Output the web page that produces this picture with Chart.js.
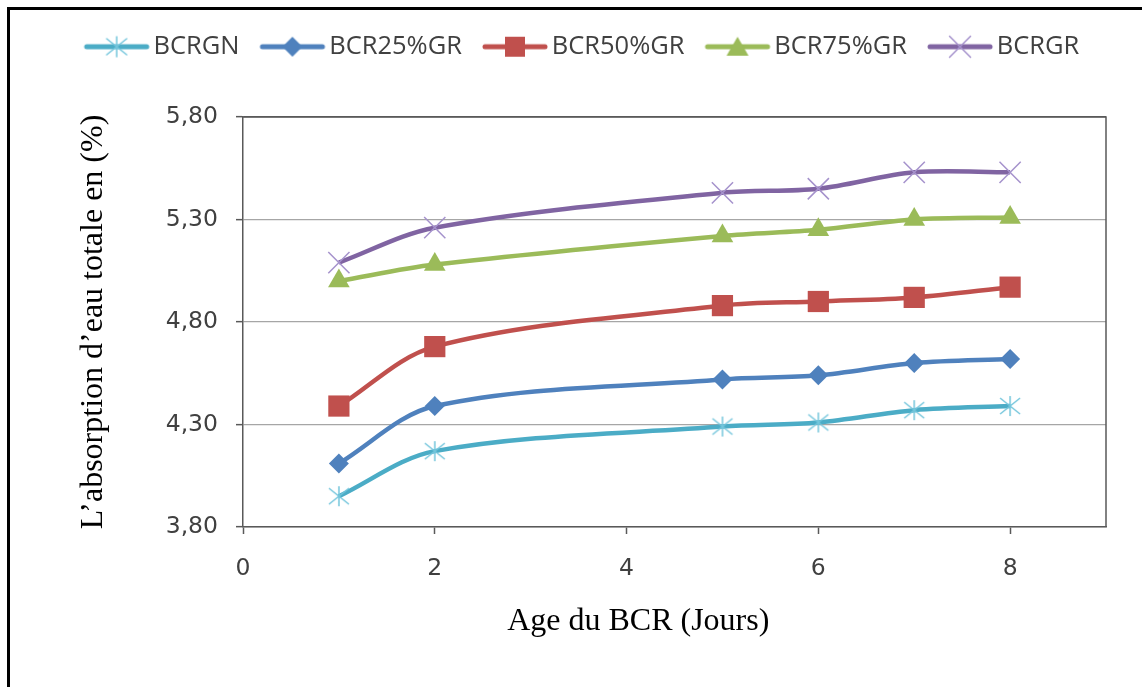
<!DOCTYPE html>
<html>
<head>
<meta charset="utf-8">
<script src="https://cdn.jsdelivr.net/npm/chart.js@4/dist/chart.umd.min.js"></script>
<style>
  html, body { margin: 0; padding: 0; background: #fff; overflow: hidden; }
  #frame { position: absolute; left: 7px; top: 7px; width: 1300px; height: 900px; border: 3px solid #000; }
  #c { position: absolute; left: 0; top: 0; }
</style>
</head>
<body>
<div id="frame"></div>
<canvas id="c" width="1142" height="687"></canvas>
<script>
// ---- data ----
const ages = [1, 2, 5, 6, 7, 8];
const seriesNames = ['BCRGN', 'BCR25%GR', 'BCR50%GR', 'BCR75%GR', 'BCRGR'];
const bcrgn   = [3.95, 4.17, 4.29, 4.31, 4.37, 4.39];
const bcr25gr = [4.11, 4.39, 4.52, 4.54, 4.60, 4.62];
const bcr50gr = [4.39, 4.68, 4.88, 4.90, 4.92, 4.97];
const bcr75gr = [5.00, 5.08, 5.22, 5.25, 5.30, 5.31];
const bcrgr   = [5.09, 5.26, 5.43, 5.45, 5.53, 5.53];
const xTickValues = [0, 2, 4, 6, 8];
const yTickValues = [3.80, 4.30, 4.80, 5.30, 5.80];
const xTitle = 'Age du BCR (Jours)';
const yTitle = 'L’absorption d’eau totale en (%)';

// ---- styles ----
const lineColors = ['#4BACC6', '#4F81BD', '#C0504D', '#9BBB59', '#8064A2'];
const markerTypes = ['star', 'diamond', 'square', 'triangle', 'x'];
const lightColors = ['#74C6DC', '#4F81BD', '#C0504D', '#9BBB59', '#A592CC'];

function drawMarker(ctx, type, cx, cy, i) {
  ctx.save();
  if (type === 'star') {
    ctx.strokeStyle = lightColors[i]; ctx.lineWidth = 1.5;
    ctx.beginPath();
    ctx.moveTo(cx, cy - 10); ctx.lineTo(cx, cy + 10);
    ctx.moveTo(cx - 10, cy - 8); ctx.lineTo(cx + 10, cy + 8);
    ctx.moveTo(cx + 10, cy - 8); ctx.lineTo(cx - 10, cy + 8);
    ctx.stroke();
  } else if (type === 'x') {
    ctx.strokeStyle = lightColors[i]; ctx.lineWidth = 1.5;
    ctx.beginPath();
    ctx.moveTo(cx - 10.5, cy - 10.5); ctx.lineTo(cx + 10.5, cy + 10.5);
    ctx.moveTo(cx + 10.5, cy - 10.5); ctx.lineTo(cx - 10.5, cy + 10.5);
    ctx.stroke();
  } else if (type === 'diamond') {
    ctx.fillStyle = lightColors[i];
    ctx.beginPath();
    ctx.moveTo(cx - 10, cy); ctx.lineTo(cx, cy - 10); ctx.lineTo(cx + 10, cy); ctx.lineTo(cx, cy + 10);
    ctx.closePath(); ctx.fill();
  } else if (type === 'square') {
    ctx.fillStyle = lightColors[i];
    ctx.fillRect(cx - 10, cy - 10, 20, 20);
  } else if (type === 'triangle') {
    ctx.fillStyle = lightColors[i];
    ctx.beginPath();
    ctx.moveTo(cx, cy - 10); ctx.lineTo(cx + 11, cy + 9); ctx.lineTo(cx - 11, cy + 9);
    ctx.closePath(); ctx.fill();
  }
  ctx.restore();
}

function makeCanvas(w, h) {
  const c = document.createElement('canvas'); c.width = w; c.height = h; return c;
}

const starCanvas = makeCanvas(24, 24);
drawMarker(starCanvas.getContext('2d'), 'star', 12, 12, 0);

const legendIcons = markerTypes.map((t, i) => {
  const c = makeCanvas(70, 26);
  const g = c.getContext('2d');
  g.strokeStyle = lineColors[i]; g.lineWidth = 5; g.lineCap = 'round';
  g.beginPath(); g.moveTo(5, 13); g.lineTo(65, 13); g.stroke();
  drawMarker(g, t, 35, 13, i);
  return c;
});

const seriesValues = [bcrgn, bcr25gr, bcr50gr, bcr75gr, bcrgr];
const pointStyles = [starCanvas, 'rectRot', 'rect', 'triangle', 'crossRot'];
const pointRadii = [10, 10, 15, 12.5, 15];

const datasets = seriesNames.map((name, i) => ({
  label: name,
  data: ages.map((a, k) => ({ x: a, y: seriesValues[i][k] })),
  borderColor: lineColors[i],
  backgroundColor: lineColors[i],
  borderWidth: 4.5,
  tension: 0.33,
  pointStyle: pointStyles[i],
  pointRadius: pointRadii[i],
  pointHoverRadius: pointRadii[i],
  pointBackgroundColor: lightColors[i],
  pointBorderColor: lightColors[i],
  pointBorderWidth: (i === 4) ? 1.5 : 0,
  fill: false
}));

const plotBorder = {
  id: 'plotBorder',
  beforeDatasetsDraw(chart) {
    const { ctx, chartArea: a } = chart;
    ctx.save();
    ctx.strokeStyle = '#595959'; ctx.lineWidth = 1.5;
    ctx.beginPath();
    ctx.moveTo(a.left, a.top); ctx.lineTo(a.right, a.top); ctx.lineTo(a.right, a.bottom);
    ctx.stroke();
    ctx.restore();
  }
};

const legendTweak = {
  id: 'legendTweak',
  beforeInit(chart) {
    const orig = chart.legend.fit;
    chart.legend.fit = function () { orig.call(this); this.height = 112; };
  },
  afterLayout(chart) {
    chart.legend.left += 28;
    chart.legend.right += 28;
  }
};

// x-axis title, sitting left of centre as in the original
const xTitlePlugin = {
  id: 'xTitlePlugin',
  afterDraw(chart) {
    const { ctx, chartArea: a } = chart;
    ctx.save();
    ctx.fillStyle = '#000';
    ctx.font = '32px "Liberation Serif"';
    ctx.textAlign = 'center';
    ctx.textBaseline = 'middle';
    ctx.fillText(xTitle, a.left + (a.right - a.left) * 0.458, a.bottom + 95);
    ctx.restore();
  }
};

new Chart(document.getElementById('c'), {
  type: 'line',
  data: { datasets },
  options: {
    responsive: false,
    animation: false,
    layout: { padding: { left: 10, right: 36, top: 5, bottom: 0 } },
    plugins: {
      tooltip: { enabled: false },
      legend: {
        position: 'top',
        labels: {
          usePointStyle: true,
          pointStyleWidth: 48,
          padding: 29,
          color: '#404040',
          font: { family: 'Open Sans', size: 25.5 },
          generateLabels(chart) {
            const items = Chart.defaults.plugins.legend.labels.generateLabels(chart);
            items.forEach((it, i) => { it.pointStyle = legendIcons[i]; });
            return items;
          }
        }
      }
    },
    scales: {
      x: {
        type: 'linear', min: 0, max: 9,
        afterBuildTicks(scale) { scale.ticks = xTickValues.map(v => ({ value: v })); },
        afterFit(scale) { scale.height = 160; },
        grid: { drawOnChartArea: false, drawTicks: true, tickLength: 7, tickColor: '#595959', tickWidth: 1.5 },
        border: { color: '#595959', width: 1.5 },
        ticks: { color: '#404040', font: { family: 'DejaVu Sans', size: 23.5 }, padding: 21, maxRotation: 0 },
        title: { display: false }
      },
      y: {
        type: 'linear', min: 3.8, max: 5.8,
        afterBuildTicks(scale) { scale.ticks = yTickValues.map(v => ({ value: v })); },
        afterFit(scale) { scale.width = 233; },
        grid: {
          color: (c) => (c.tick && c.tick.value === 5.8) ? '#595959' : '#a6a6a6',
          lineWidth: 1.3, tickLength: 7, tickColor: '#595959', tickWidth: 1.5
        },
        border: { color: '#595959', width: 1.5 },
        ticks: { color: '#404040', font: { family: 'DejaVu Sans', size: 23.5 }, padding: 18,
                 callback: (v) => Number(v).toFixed(2).replace('.', ',') },
        title: { display: true, text: yTitle, color: '#000',
                 font: { family: 'Liberation Serif', size: 32 }, padding: { top: 64, bottom: 0 } }
      }
    }
  },
  plugins: [plotBorder, legendTweak, xTitlePlugin]
});
</script>
</body>
</html>
